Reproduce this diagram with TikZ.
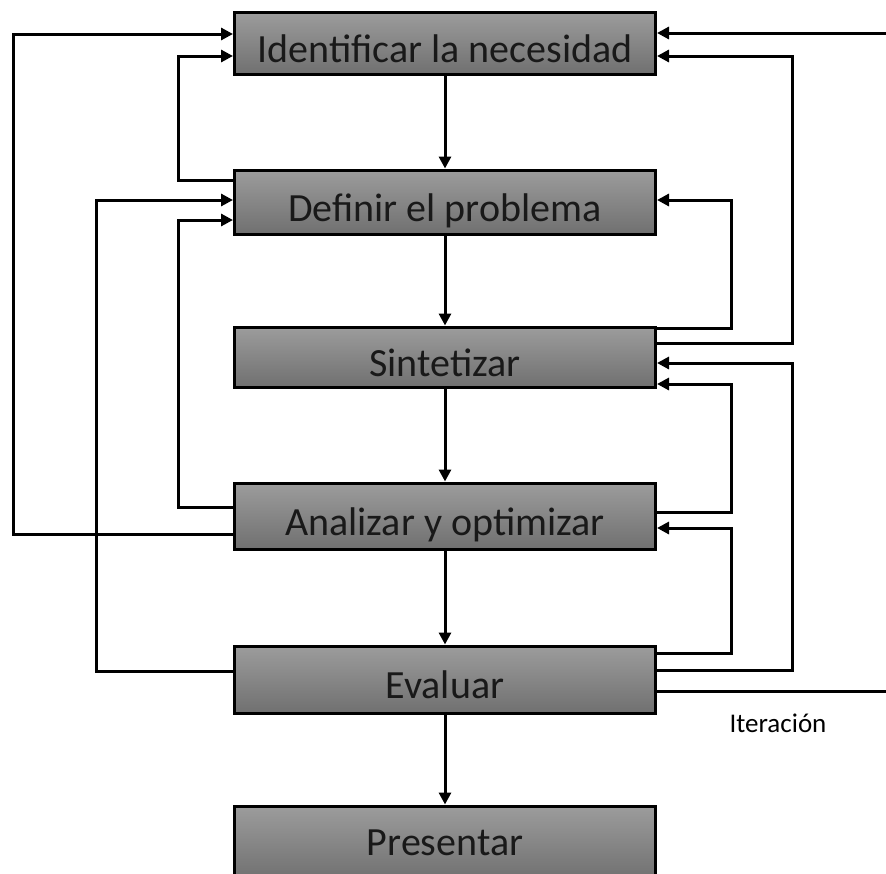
\documentclass[tikz,border=0pt]{standalone}
\usepackage{fontspec}
\setmainfont{Carlito}
\usepackage{tikz}
\usetikzlibrary{arrows.meta}
\usetikzlibrary{positioning}
\definecolor{boxtop}{RGB}{156,156,156}
\definecolor{boxbottom}{RGB}{112,112,112}
\definecolor{boxtext}{RGB}{25,25,25}

\begin{document}
\begin{tikzpicture}[box/.style={rectangle, draw, line width=3pt, top color=boxtop, bottom color=boxbottom, text=boxtext, minimum width=421pt, inner sep=0pt, text height=38pt, text depth=0pt, font=\fontsize{40}{44}\selectfont}, line width=3pt, >={Triangle[length=12pt,width=12pt]}]
    \useasboundingbox (0,0) rectangle (886pt,-873pt);
    \node[box, minimum height=62pt] (1) at (445pt,-43pt) {Identificar la necesidad};
    \node[box, minimum height=64pt] (2) [below=93pt of 1] {Definir el problema};
    \node[box, minimum height=60pt] (3) [below=90pt of 2] {Sintetizar};
    \node[box, minimum height=66pt] (4) [below=93pt of 3] {Analizar y optimizar};
    \node[box, minimum height=67pt] (5) [below=94pt of 4] {Evaluar};
    \node[box, minimum height=74pt, text height=24pt] (6) [below=90pt of 5] {Presentar};
    \node (iter) at (778pt,-723pt) {\fontsize{27}{30}\selectfont Iteración};
    \draw[->] (1) -- (2);
    \draw[->] (2) -- (3);
    \draw[->] (3) -- (4);
    \draw[->] (4) -- (5);
    \draw[->] (5) -- (6);
    \draw[->] ([yshift=-18pt]4.west) -- ++(-220pt,0) |- ([yshift=9pt]1.west);
    \draw[->] ([yshift=22pt]2.west) -- ++(-55pt,0) |- ([yshift=-13pt]1.west);
    \draw[->] ([yshift=8pt]5.west) -- ++(-137pt,0) |- ([yshift=2pt]2.west);
    \draw[->] ([yshift=9pt]4.west) -- ++(-55pt,0) |- ([yshift=-18pt]2.west);
    \draw[->] ([yshift=14pt]3.east) -- ++(135pt,0) |- ([yshift=-13pt]1.east);
    \draw[->] ([yshift=29pt]3.east) -- ++(74pt,0) |- ([yshift=2pt]2.east);
    \draw[->] ([yshift=9pt]5.east) -- ++(135pt,0) |- ([yshift=-6pt]3.east);
    \draw[->] ([yshift=4pt]4.east) -- ++(74pt,0) |- ([yshift=-27pt]3.east);
    \draw[->] ([yshift=26pt]5.east) -- ++(74pt,0) |- ([yshift=-12pt]4.east);
    \draw ([yshift=-12pt]5.east) -- ++(232pt,0) coordinate (iterout);
    \coordinate (iterin) at ([xshift=232pt,yshift=10pt]1.east);
    \draw[->] (iterin) -- ([yshift=10pt]1.east);
\end{tikzpicture}
\end{document}
